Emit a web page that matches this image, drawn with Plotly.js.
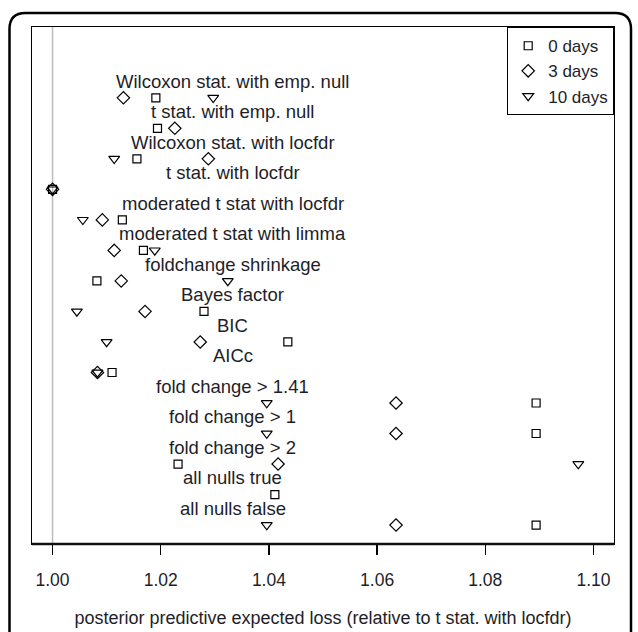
<!DOCTYPE html>
<html>
<head>
<meta charset="utf-8">
<script src="https://cdn.plot.ly/plotly-3.0.1.min.js"></script>
<style>
  html, body { margin: 0; padding: 0; background: #fff; }
  #chart { width: 638px; height: 632px; }
</style>
</head>
<body>
<div id="chart"></div>
<script>
// ---- data ----
const methods = [
  "Wilcoxon stat. with emp. null",
  "t stat. with emp. null",
  "Wilcoxon stat. with locfdr",
  "t stat. with locfdr",
  "moderated t stat with locfdr",
  "moderated t stat with limma",
  "foldchange shrinkage",
  "Bayes factor",
  "BIC",
  "AICc",
  "fold change > 1.41",
  "fold change > 1",
  "fold change > 2",
  "all nulls true",
  "all nulls false"
];
const days0  = [1.0191, 1.0194, 1.0156, 1.0000, 1.0129, 1.0168, 1.0082, 1.0280, 1.0435, 1.0110, 1.0894, 1.0894, 1.0232, 1.0411, 1.0894];
const days3  = [1.0131, 1.0226, 1.0288, 1.0000, 1.0092, 1.0114, 1.0127, 1.0171, 1.0273, 1.0083, 1.0635, 1.0635, 1.0417, null,   1.0635];
const days10 = [1.0297, null,   1.0114, 1.0000, 1.0056, 1.0189, 1.0324, 1.0045, 1.0100, 1.0083, 1.0396, 1.0396, 1.0972, null,   1.0396];
const seriesNames = ["0 days", "3 days", "10 days"];
const tickVals = [1.00, 1.02, 1.04, 1.06, 1.08, 1.10];
const tickText = ["1.00", "1.02", "1.04", "1.06", "1.08", "1.10"];
const labelX = 1.0333;
const xTitle = "posterior predictive expected loss (relative to t stat. with locfdr)";

// ---- build ----
const rows = methods.map((m, i) => i + 1);
const FONT = "Liberation Sans, Arial, sans-serif";
const TXT = "#1e1e28";

function mk(name, xs, symbol, size) {
  return {
    type: "scatter", mode: "markers", name: name,
    x: xs, y: rows,
    marker: { symbol: symbol, size: size, color: "#000",
              line: { color: "#000", width: 1.2 } },
    hoverinfo: "x+name"
  };
}
const traces = [
  mk(seriesNames[0], days0, "square-open", 8),
  mk(seriesNames[1], days3, "diamond-open", 9.5),
  mk(seriesNames[2], days10, "triangle-down-open", 9.5)
];

const annotations = methods.map((m, i) => ({
  x: labelX, y: rows[i] - 0.55, xref: "x", yref: "y",
  text: m, showarrow: false, xanchor: "center", yanchor: "middle",
  font: { family: FONT, size: 18.5, color: TXT }
}));

// outer rounded frame (pixel -> paper helper)
const L = 32, R = 24, T = 27, B = 88, W = 638, H = 632;
const pw = W - L - R, ph = H - T - B;
const PX = p => ((p - L) / pw).toFixed(5);
const PY = p => ((H - B - p) / ph).toFixed(5);
const fl = 9.5, fr = 631, ft = 13, fb = 660, rad = 16;
const framePath =
  `M${PX(fl)},${PY(fb)} L${PX(fl)},${PY(ft + rad)} Q${PX(fl)},${PY(ft)} ${PX(fl + rad)},${PY(ft)} ` +
  `L${PX(fr - rad)},${PY(ft)} Q${PX(fr)},${PY(ft)} ${PX(fr)},${PY(ft + rad)} L${PX(fr)},${PY(fb)}`;

const layout = {
  width: W, height: H,
  margin: { l: L, r: R, t: T, b: B },
  paper_bgcolor: "#fff", plot_bgcolor: "#fff",
  font: { family: FONT, size: 17, color: TXT },
  showlegend: true,
  legend: {
    x: 1, xanchor: "right", y: 1, yanchor: "top",
    bordercolor: "#000", borderwidth: 1.2, bgcolor: "#fff",
    font: { family: FONT, size: 17, color: TXT },
    itemwidth: 30,
    tracegroupgap: 0
  },
  xaxis: {
    range: [0.9962, 1.1038],
    tickmode: "array", tickvals: tickVals, ticktext: tickText,
    ticks: "outside", ticklen: 10, tickwidth: 1.2, tickcolor: "#000",
    ticklabelstandoff: 10,
    tickfont: { family: FONT, size: 17.5, color: TXT },
    showline: true, mirror: true, linecolor: "#000", linewidth: 1.2,
    showgrid: false, zeroline: false,
    title: { text: xTitle, standoff: 22, font: { family: FONT, size: 18, color: TXT } }
  },
  yaxis: {
    range: [15.62, -1.32],
    showticklabels: false, ticks: "",
    showline: true, mirror: true, linecolor: "#000", linewidth: 1.2,
    showgrid: false, zeroline: false
  },
  shapes: [
    { type: "line", xref: "x", yref: "paper", x0: 1.0, x1: 1.0, y0: 0, y1: 1,
      line: { color: "#bdbdbd", width: 1.5 }, layer: "below" },
    { type: "line", xref: "paper", yref: "paper", x0: 0, x1: 1, y0: 0, y1: 0,
      line: { color: "#111", width: 2.5 } },
    { type: "path", xref: "paper", yref: "paper", path: framePath,
      line: { color: "#000", width: 2.5 } }
  ],
  annotations: annotations
};

Plotly.newPlot("chart", traces, layout, { displayModeBar: false, staticPlot: true });
</script>
</body>
</html>
